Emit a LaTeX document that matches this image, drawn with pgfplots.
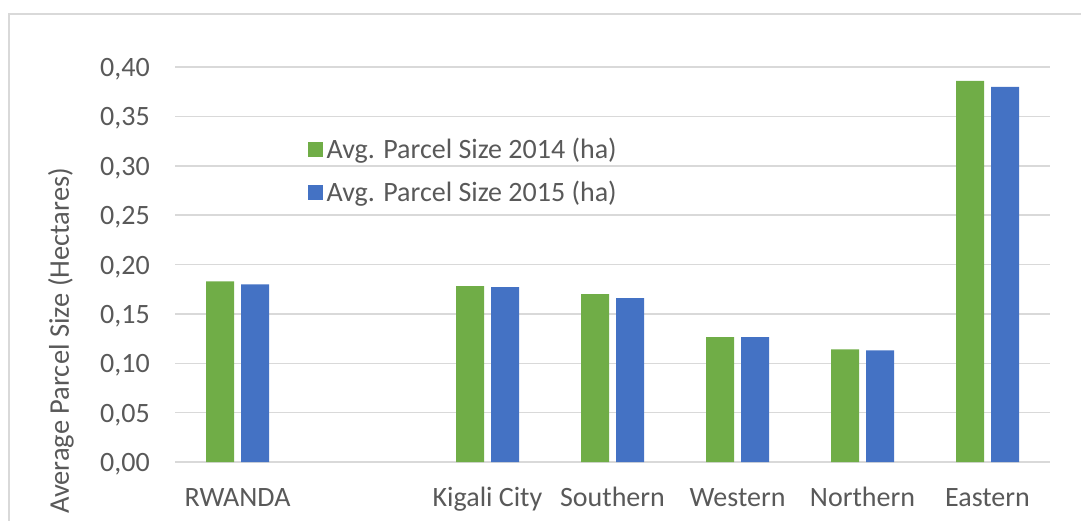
\documentclass[border=0pt]{standalone}
\usepackage{pgfplots}
\pgfplotsset{compat=1.18}
\usepackage{fontspec}
\setmainfont{Carlito}
\definecolor{gr}{HTML}{70AD47}
\definecolor{bl}{HTML}{4472C4}
\definecolor{tx}{HTML}{595959}
\definecolor{gl}{HTML}{D9D9D9}
\begin{document}
\begin{tikzpicture}[x=1pt,y=1pt]
\path[use as bounding box] (0,0) rectangle (1081,520);
\draw[gl, line width=1.5pt] (9,-10) -- (9,506) -- (1100,506);
\node[rotate=90, text=tx, font=\fontsize{28.5}{32}\selectfont] at (61,179) {Average Parcel Size (Hectares)};
\begin{axis}[at={(175pt,58pt)}, anchor=south west, scale only axis,
  width=875pt, height=395pt,
  xmin=-0.5, xmax=6.5, ymin=0, ymax=0.4,
  ytick={0,0.05,0.1,0.15,0.2,0.25,0.3,0.35,0.4},
  xtick={0,2,3,4,5,6},
  xticklabels={RWANDA, Kigali City, Southern, Western, Northern, Eastern},
  axis line style={draw=none},
  ymajorgrids, major grid style={gl, line width=1.5pt},
  major tick style={draw=none},
  /pgf/number format/fixed, /pgf/number format/fixed zerofill,
  /pgf/number format/precision=2, /pgf/number format/use comma,
  /pgf/number format/assume math mode=true,
  ticklabel style={font=\fontsize{28}{32}\selectfont, text=tx, inner sep=0pt},
  yticklabel style={anchor=base east, xshift=-25pt, yshift=-9.5pt},
  xticklabel style={anchor=base, yshift=-44pt},
  legend style={at={(axis description cs:0.152,0.82)}, anchor=north west, draw=none, fill=none,
    font=\fontsize{28}{32}\selectfont, text=tx, row sep=21pt, inner sep=0pt,
    nodes={inner xsep=3.5pt, inner ysep=0pt}},
  legend cell align=left,
  legend image code/.code={\fill[#1] (0pt,-7.5pt) rectangle (15pt,7.5pt);},
]
\addplot[ybar, bar width=28pt, bar shift=-17.5pt, fill=gr, draw=none] coordinates {
 (0,0.183) (2,0.178) (3,0.170) (4,0.1265) (5,0.114) (6,0.386)};
\addlegendentry{Avg. Parcel Size 2014 (ha)}
\addplot[ybar, bar width=28pt, bar shift=17.5pt, fill=bl, draw=none] coordinates {
 (0,0.180) (2,0.177) (3,0.166) (4,0.1265) (5,0.113) (6,0.380)};
\addlegendentry{Avg. Parcel Size 2015 (ha)}
\end{axis}
\end{tikzpicture}
\end{document}
